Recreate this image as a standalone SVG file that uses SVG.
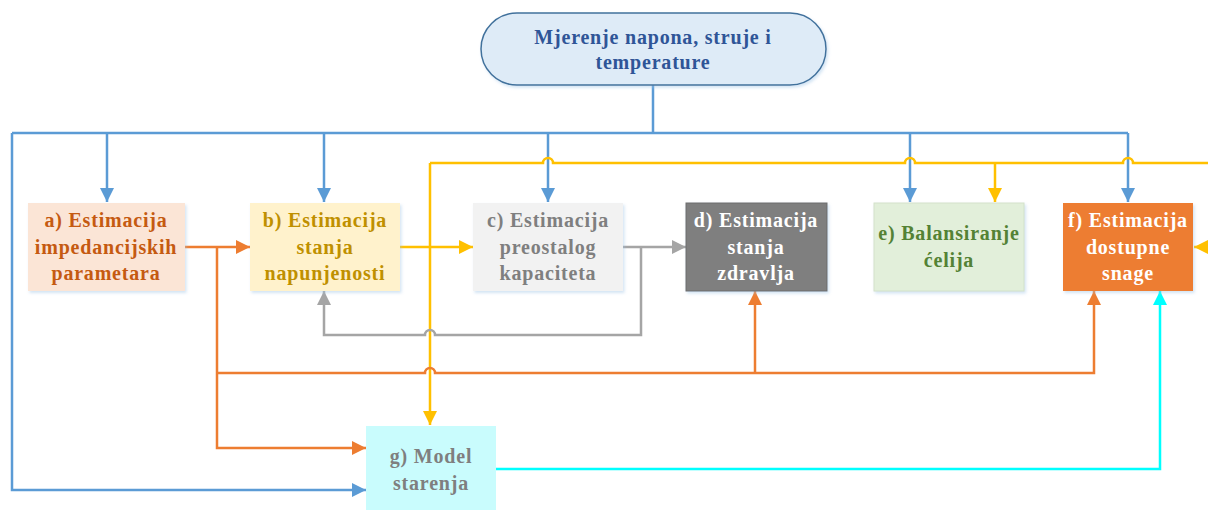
<svg xmlns="http://www.w3.org/2000/svg" width="1208" height="510" viewBox="0 0 1208 510">
<style>
.t{font-family:"Liberation Serif","Times New Roman",serif;font-weight:bold;font-size:20px;text-anchor:middle;letter-spacing:0.8px}
.c{fill:none;stroke-width:2.5;stroke-linejoin:miter}
.bl{stroke:#5b9bd5}.or{stroke:#ed7d31}.ye{stroke:#ffc000}.gr{stroke:#a5a5a5}.cy{stroke:#00ffff}
</style>
<defs>
<filter id="sh" x="-10%" y="-10%" width="125%" height="125%"><feDropShadow dx="1.5" dy="2" stdDeviation="1.5" flood-color="#9dc3e6" flood-opacity="0.45"/></filter>
<marker id="mB" markerUnits="userSpaceOnUse" markerWidth="14" markerHeight="14" refX="14" refY="7" orient="auto"><path d="M0,0 L14,7 L0,14 z" fill="#5b9bd5"/></marker>
<marker id="mO" markerUnits="userSpaceOnUse" markerWidth="14" markerHeight="14" refX="14" refY="7" orient="auto"><path d="M0,0 L14,7 L0,14 z" fill="#ed7d31"/></marker>
<marker id="mY" markerUnits="userSpaceOnUse" markerWidth="14" markerHeight="14" refX="14" refY="7" orient="auto"><path d="M0,0 L14,7 L0,14 z" fill="#ffc000"/></marker>
<marker id="mG" markerUnits="userSpaceOnUse" markerWidth="14" markerHeight="14" refX="14" refY="7" orient="auto"><path d="M0,0 L14,7 L0,14 z" fill="#a5a5a5"/></marker>
<marker id="mC" markerUnits="userSpaceOnUse" markerWidth="14" markerHeight="14" refX="14" refY="7" orient="auto"><path d="M0,0 L14,7 L0,14 z" fill="#00ffff"/></marker>
</defs>
<rect width="1208" height="510" fill="#ffffff"/>

<g id="connectors">
<!-- blue -->
<path class="c bl" d="M653,85 V133"/>
<path class="c bl" d="M12,133 H1128"/>
<path class="c bl" marker-end="url(#mB)" d="M107,133 V202"/>
<path class="c bl" marker-end="url(#mB)" d="M324,133 V202"/>
<path class="c bl" marker-end="url(#mB)" d="M548,133 V202"/>
<path class="c bl" marker-end="url(#mB)" d="M910,133 V202"/>
<path class="c bl" marker-end="url(#mB)" d="M1128,133 V202"/>
<path class="c bl" marker-end="url(#mB)" d="M12,133 V490 H366"/>
<!-- yellow -->
<path class="c ye" d="M430,163 H543 A5,5 0 0 1 553,163 H905 A5,5 0 0 1 915,163 H1123 A5,5 0 0 1 1133,163 H1210"/>
<path class="c ye" marker-end="url(#mY)" d="M430,163 V425"/>
<path class="c ye" marker-end="url(#mY)" d="M995,163 V202"/>
<path class="c ye" marker-end="url(#mY)" d="M1212,247 H1194"/>
<path class="c ye" marker-end="url(#mY)" d="M400,247 H473"/>
<!-- orange -->
<path class="c or" marker-end="url(#mO)" d="M185,247 H250"/>
<path class="c or" marker-end="url(#mO)" d="M217,247 V448 H366"/>
<path class="c or" marker-end="url(#mO)" d="M217,373 H425 A5,5 0 0 1 435,373 H1094 V291"/>
<path class="c or" marker-end="url(#mO)" d="M755,373 V291"/>
<!-- gray -->
<path class="c gr" marker-end="url(#mG)" d="M623,247 H686"/>
<path class="c gr" marker-end="url(#mG)" d="M641,247 V335 H435 A5,5 0 0 0 425,335 H324 V291"/>
<!-- cyan -->
<path class="c cy" marker-end="url(#mC)" d="M496,469 H1160 V291"/>
</g>

<g id="top">
<rect x="481" y="13" width="345" height="72" rx="36" ry="36" fill="#deebf7" stroke="#41719c" stroke-width="1.5" filter="url(#sh)"/>
<text class="t" fill="#2f5597" x="653" y="44">Mjerenje napona, struje i</text>
<text class="t" fill="#2f5597" x="653" y="69">temperature</text>
</g>

<g id="a">
<rect x="28" y="203" width="157" height="88" fill="#fbe5d6" filter="url(#sh)"/>
<text class="t" fill="#c55a11" x="106" y="227">a) Estimacija</text>
<text class="t" fill="#c55a11" x="106" y="254">impedancijskih</text>
<text class="t" fill="#c55a11" x="106" y="280">parametara</text>
</g>
<g id="b">
<rect x="250" y="203" width="150" height="88" fill="#fff2cc" filter="url(#sh)"/>
<text class="t" fill="#bf9000" x="325" y="227">b) Estimacija</text>
<text class="t" fill="#bf9000" x="325" y="254">stanja</text>
<text class="t" fill="#bf9000" x="325" y="280">napunjenosti</text>
</g>
<g id="c">
<rect x="473" y="203" width="150" height="88" fill="#f2f2f2" filter="url(#sh)"/>
<text class="t" fill="#7f7f7f" x="548" y="227">c) Estimacija</text>
<text class="t" fill="#7f7f7f" x="548" y="254">preostalog</text>
<text class="t" fill="#7f7f7f" x="548" y="280">kapaciteta</text>
</g>
<g id="d">
<rect x="686" y="203" width="141" height="88" fill="#7f7f7f" stroke="#6d6d6d" stroke-width="1" filter="url(#sh)"/>
<text class="t" fill="#ffffff" x="756" y="227">d) Estimacija</text>
<text class="t" fill="#ffffff" x="756" y="254">stanja</text>
<text class="t" fill="#ffffff" x="756" y="280">zdravlja</text>
</g>
<g id="e">
<rect x="874" y="203" width="150" height="88" fill="#e2efda" stroke="#d3e2ca" stroke-width="1" filter="url(#sh)"/>
<text class="t" fill="#548235" x="949" y="240">e) Balansiranje</text>
<text class="t" fill="#548235" x="949" y="267">ćelija</text>
</g>
<g id="f">
<rect x="1063" y="203" width="130" height="88" fill="#ed7d31" filter="url(#sh)"/>
<text class="t" fill="#ffffff" x="1128" y="227">f) Estimacija</text>
<text class="t" fill="#ffffff" x="1128" y="254">dostupne</text>
<text class="t" fill="#ffffff" x="1128" y="280">snage</text>
</g>
<g id="g">
<rect x="366" y="426" width="130" height="84" fill="#c9fcfd"/>
<text class="t" fill="#7f7f7f" x="431" y="463">g) Model</text>
<text class="t" fill="#7f7f7f" x="431" y="490">starenja</text>
</g>
</svg>
